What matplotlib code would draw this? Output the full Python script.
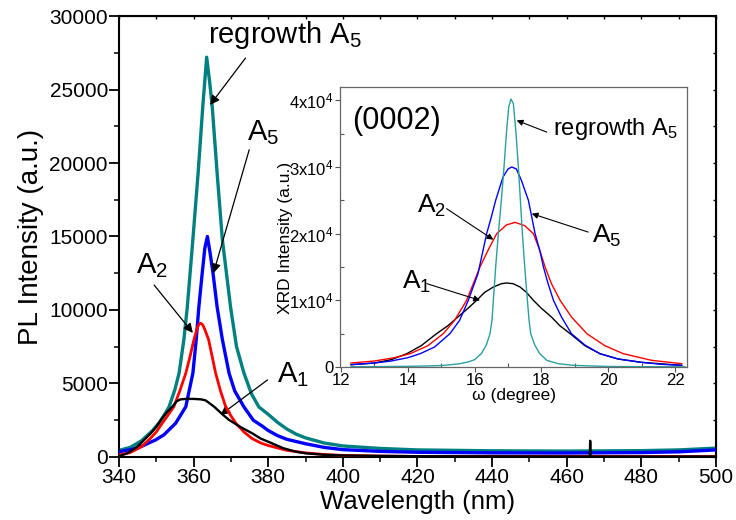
import matplotlib
matplotlib.use('Agg')
import matplotlib.pyplot as plt
from matplotlib.ticker import MultipleLocator, FixedLocator, FixedFormatter

plt.rcParams['font.family'] = ['Liberation Sans', 'DejaVu Sans']
plt.rcParams['mathtext.fontset'] = 'custom'
plt.rcParams['mathtext.rm'] = 'Liberation Sans'
plt.rcParams['mathtext.it'] = 'Liberation Sans'
plt.rcParams['mathtext.default'] = 'regular'

# ---------------- main PL data ----------------
wl_regrowth = [340, 343, 346, 349, 351, 353.4, 355, 356.1, 357.4, 358.3, 359.8, 361.2, 362.5, 363.5,
               364.3, 365.0, 366.3, 367.7, 369.9, 371.5, 373.5, 375.5, 377.5, 380, 382.5, 385, 387.5,
               390, 395, 400, 410, 420, 440, 460, 480, 490, 500]
pl_regrowth = [450, 650, 1100, 1800, 2400, 3400, 4600, 5700, 8000, 10200, 14800, 19300, 24000, 27200,
               25500, 23800, 19300, 14800, 10200, 7500, 5700, 4300, 3400, 2900, 2350, 1900, 1550,
               1300, 950, 750, 580, 480, 420, 400, 430, 480, 600]

wl_a5 = [340, 345, 349.8, 352, 355.2, 357.9, 359.8, 360.7, 361.4, 362.3, 363.0, 363.7, 364.4, 365.2,
         366.3, 367.7, 369.5, 371, 373.5, 376, 378.4, 380, 382.5, 385, 390, 395, 400, 410, 420, 440,
         460, 480, 490, 500]
pl_a5 = [350, 600, 1160, 1500, 2300, 3420, 5700, 8000, 10200, 12500, 14200, 15000, 13900, 12500,
         10200, 8000, 5700, 4500, 3400, 2500, 2100, 1800, 1450, 1200, 900, 650, 500, 380, 320, 280,
         270, 300, 350, 480]

wl_a2 = [340, 343, 346, 348, 350, 351.6, 353, 354.7, 356.3, 357.9, 359, 360.1, 361.0, 361.5, 361.9,
         362.4, 362.8, 364.0, 365.0, 365.9, 367.2, 368.6, 370, 371.3, 373.5, 375.7, 378, 380, 385,
         390, 395, 400, 410, 420, 500]
pl_a2 = [130, 300, 700, 1160, 1700, 2300, 2800, 3420, 4500, 5700, 6800, 8000, 8800, 9050, 9100,
         9000, 8800, 8000, 6800, 5700, 4500, 3420, 2800, 2300, 1700, 1250, 950, 780, 450,
         280, 170, 110, 60, 40, 30]

wl_a1 = [340, 342.2, 344.9, 346.5, 348.5, 350, 351.2, 352.7, 354.3, 355.5, 356.5, 358, 360, 362,
         363.2, 364.3, 365.5, 367.5, 369.5, 372.5, 375.7, 378, 381, 384, 387.4, 390, 395, 400,
         420, 466.2, 466.3, 466.4, 500]
pl_a1 = [50, 250, 700, 1100, 1610, 2050, 2520, 3000, 3420, 3800, 3920, 3950, 3950, 3920,
         3850, 3650, 3420, 2950, 2520, 2050, 1610, 1250, 930, 600, 360, 250, 150, 100,
         50, 30, 1100, 30, 30]

# ---------------- inset XRD data ----------------
om_regrowth = [12.3, 13, 14, 14.5, 15, 15.5, 15.8, 16, 16.2, 16.35, 16.46, 16.52, 16.56, 16.63,
               16.71, 16.8, 16.88, 16.95, 17.02, 17.09, 17.16, 17.24, 17.31, 17.37, 17.43, 17.5,
               17.58, 17.63, 17.68, 17.8, 17.95, 18.16, 18.5, 18.96, 20, 21, 22.3]
xrd_regrowth = [50, 60, 100, 150, 220, 450, 750, 1100, 2000, 3300, 5000, 7000, 10000, 15000,
                20000, 25000, 30000, 35000, 39000, 40200, 39500, 35000, 30000, 25000, 20000, 15000,
                10000, 7000, 5000, 3300, 2000, 1000, 500, 250, 80, 50, 30]

om_a5 = [12.3, 13, 13.5, 14, 14.37, 14.8, 15.26, 15.55, 15.81, 16.1, 16.36, 16.5, 16.63, 16.85,
         17.0, 17.11, 17.25, 17.4, 17.61, 17.81, 17.95, 18.06, 18.2, 18.36, 18.6, 18.9, 19.3,
         19.75, 20.3, 21, 21.6, 22.2]
xrd_a5 = [350, 600, 900, 1400, 2000, 3000, 5000, 7000, 10000, 14000, 20000, 22500, 25000, 28500,
          29700, 30000, 29700, 28000, 25000, 20000, 17500, 15000, 12500, 10000, 7500, 5000, 3300,
          2000, 1200, 700, 400, 250]

om_a2 = [12.3, 13, 13.6, 14.07, 14.6, 15.06, 15.4, 15.76, 16.16, 16.4, 16.66, 16.95, 17.21, 17.5,
         17.76, 17.95, 18.11, 18.3, 18.56, 18.9, 19.36, 19.9, 20.45, 21.3, 22.2]
xrd_a2 = [600, 900, 1400, 2000, 3200, 5000, 7000, 10000, 15000, 17500, 20000, 21300, 21700, 21200,
          20000, 17500, 15000, 12500, 10000, 7500, 5000, 3200, 2000, 1000, 500]

om_a1 = [12.3, 13, 13.5, 13.97, 14.4, 14.86, 15.2, 15.5, 15.8, 16.06, 16.3, 16.56, 16.8, 16.96,
         17.15, 17.36, 17.55, 17.76, 18.0, 18.3, 18.55, 18.86, 19.3, 19.75, 20.3, 21, 22.2]
xrd_a1 = [350, 600, 1100, 2000, 3200, 5000, 6200, 7500, 8800, 10000, 11200, 12000, 12500, 12600,
          12500, 12000, 11200, 10000, 8800, 7500, 6200, 5000, 3200, 2000, 1200, 700, 250]

inset_ytick_vals = [0, 10000, 20000, 30000, 40000]
inset_ytick_labels = ['0', '1x10$^4$', '2x10$^4$', '3x10$^4$', '4x10$^4$']

TEAL = '#008080'
TEAL_L = '#2aa0a0'

fig = plt.figure(figsize=(7.36, 5.2), dpi=100)
ax = fig.add_axes([0.1617, 0.1212, 0.811, 0.848])

ax.plot(wl_regrowth, pl_regrowth, color=TEAL, lw=2.4, zorder=2)
ax.plot(wl_a5, pl_a5, color='#0000ff', lw=2.4, zorder=3)
ax.plot(wl_a2, pl_a2, color='#ff0000', lw=2.0, zorder=4)
ax.plot(wl_a1, pl_a1, color='black', lw=1.7, zorder=5)

ax.set_xlim(340, 500)
ax.set_ylim(0, 30000)
ax.xaxis.set_major_locator(MultipleLocator(20))
ax.xaxis.set_minor_locator(MultipleLocator(10))
ax.yaxis.set_major_locator(MultipleLocator(5000))
ax.yaxis.set_minor_locator(MultipleLocator(2500))
ax.tick_params(which='major', direction='out', length=7, width=1.3, labelsize=15, pad=1)
ax.tick_params(which='minor', direction='out', length=3.5, width=1.1)
for s in ax.spines.values():
    s.set_linewidth(1.5)
ax.set_xlabel('Wavelength (nm)', fontsize=18.5, labelpad=2)
ax.set_ylabel('PL Intensity (a.u.)', fontsize=20, labelpad=4)

sx = ax.secondary_xaxis('top')
sx.xaxis.set_major_locator(MultipleLocator(20))
sx.xaxis.set_minor_locator(MultipleLocator(10))
sx.tick_params(which='both', direction='in', length=2, width=1, labeltop=False)
sy = ax.secondary_yaxis('right')
sy.yaxis.set_major_locator(MultipleLocator(5000))
sy.yaxis.set_minor_locator(MultipleLocator(2500))
sy.tick_params(which='both', direction='in', length=2, width=1, labelright=False)

arrow = dict(arrowstyle='-|>', color='black', lw=0.9, mutation_scale=14, shrinkA=0, shrinkB=0)
ax.annotate('', xy=(364.4, 23950), xytext=(373.9, 27140), arrowprops=arrow)
ax.annotate('', xy=(365.3, 12500), xytext=(374.9, 20900), arrowprops=arrow)
ax.annotate('', xy=(359.8, 8440), xytext=(349.4, 11700), arrowprops=arrow)
ax.annotate('', xy=(367.2, 2860), xytext=(379.8, 5240), arrowprops=arrow)
ax.text(363.9, 28160, 'regrowth A$_5$', fontsize=21, ha='left', va='baseline')
ax.text(374.2, 21560, 'A$_5$', fontsize=21, ha='left', va='baseline')
ax.text(344.5, 12520, 'A$_2$', fontsize=21, ha='left', va='baseline')
ax.text(382.3, 5120, 'A$_1$', fontsize=21, ha='left', va='baseline')

# ---------------- inset ----------------
axi = fig.add_axes([0.462, 0.2942, 0.4715, 0.5385])
axi.plot(om_a1, xrd_a1, color='black', lw=1.0)
axi.plot(om_a2, xrd_a2, color='#ff0000', lw=1.0)
axi.plot(om_a5, xrd_a5, color='#0000ff', lw=1.0)
axi.plot(om_regrowth, xrd_regrowth, color=TEAL_L, lw=1.0)
axi.set_xlim(11.97, 22.36)
axi.set_ylim(0, 42000)
axi.xaxis.set_major_locator(MultipleLocator(2))
axi.xaxis.set_minor_locator(MultipleLocator(1))
axi.yaxis.set_major_locator(FixedLocator(inset_ytick_vals))
axi.yaxis.set_major_formatter(FixedFormatter(inset_ytick_labels))
axi.yaxis.set_minor_locator(MultipleLocator(5000))
axi.tick_params(which='major', direction='out', length=3.5, width=0.8, labelsize=12, pad=1,
                color='#555555')
axi.tick_params(which='minor', direction='in', length=3, width=0.8, color='#555555')
for s in axi.spines.values():
    s.set_linewidth(0.9)
    s.set_color('#666666')
axi.set_xlabel('ω (degree)', fontsize=12.5, labelpad=0)
axi.set_ylabel('XRD Intensity (a.u.)', fontsize=12.5, labelpad=0)
axi.yaxis.set_label_coords(-0.135, 0.46)

arrow_i = dict(arrowstyle='-|>', color='black', lw=0.8, mutation_scale=9, shrinkA=0, shrinkB=0)
axi.annotate('', xy=(17.26, 36990), xytext=(18.16, 35230), arrowprops=arrow_i)
axi.annotate('', xy=(16.56, 19100), xytext=(15.16, 23750), arrowprops=arrow_i)
axi.annotate('', xy=(17.71, 23000), xytext=(19.40, 20240), arrowprops=arrow_i)
axi.annotate('', xy=(16.16, 10000), xytext=(14.57, 12500), arrowprops=arrow_i)
axi.text(12.32, 35740, '(0002)', fontsize=22, ha='left', va='baseline')
axi.text(18.35, 34740, 'regrowth A$_5$', fontsize=17, ha='left', va='baseline')
axi.text(14.27, 23190, 'A$_2$', fontsize=19, ha='left', va='baseline')
axi.text(19.51, 18700, 'A$_5$', fontsize=19, ha='left', va='baseline')
axi.text(13.82, 11800, 'A$_1$', fontsize=19, ha='left', va='baseline')

fig.savefig('out.png', dpi=100)
